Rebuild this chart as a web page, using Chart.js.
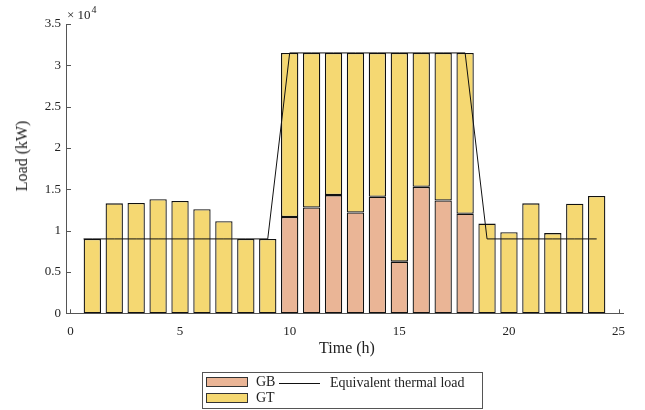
<!DOCTYPE html>
<html>
<head>
<meta charset="utf-8">
<script src="https://cdn.jsdelivr.net/npm/chart.js@4.4.1/dist/chart.umd.min.js"></script>
<style>
  html, body { margin: 0; padding: 0; background: #fff; }
  #wrap { position: relative; width: 645px; height: 410px; font-family: "Liberation Serif", serif; color: #222; }
  #wrap canvas { position: absolute; left: 0; top: 0; }
  .lbl { position: absolute; white-space: nowrap; line-height: 1; }
  #exp { left: 67px; top: 8px; font-size: 13px; }
  #exp .pow { font-size: 10px; position: relative; top: -6px; margin-left: 1px; }
  #ytitle { left: 22px; top: 156px; font-size: 16px; transform: translate(-50%, -50%) rotate(-90deg); }
  #xtitle { left: 347px; top: 348px; font-size: 16px; transform: translate(-50%, -50%); }
  #legend { position: absolute; left: 202px; top: 372px; width: 281px; height: 37px; box-sizing: border-box;
            border: 1px solid #555; font-size: 14px; }
  .item { position: absolute; display: flex; align-items: center; height: 16px; }
  .swatch { width: 42px; height: 10px; box-sizing: border-box; border: 1px solid #333; margin-right: 8px; }
  .stroke { width: 41px; height: 0; border-top: 1px solid #111; margin-right: 10px; }
</style>
</head>
<body>
<div id="wrap">
  <canvas id="chart" width="645" height="410"></canvas>
  <div class="lbl" id="exp">× 10<span class="pow">4</span></div>
  <div class="lbl" id="ytitle">Load (kW)</div>
  <div class="lbl" id="xtitle">Time (h)</div>
  <div id="legend"></div>
</div>
<script>
// hourly heat supply (kW)
const HOURS = [1, 2, 3, 4, 5, 6, 7, 8, 9, 10, 11, 12, 13, 14, 15, 16, 17, 18, 19, 20, 21, 22, 23, 24];
const GB = [0, 0, 0, 0, 0, 0, 0, 0, 0,
            11650, 12800, 14300, 12200, 14100, 6250, 15300, 13650, 12050,
            0, 0, 0, 0, 0, 0];
const GT = [9000, 13300, 13350, 13800, 13600, 12600, 11150, 9000, 9000,
            19850, 18700, 17200, 19300, 17400, 25250, 16200, 17850, 19450,
            10850, 9800, 13300, 9700, 13250, 14200];

// equivalent thermal load curve
const LOAD_HOURS = [0.6, 1, 2, 3, 4, 5, 6, 7, 8, 9, 10, 11, 12, 13, 14, 15, 16, 17, 18, 19, 20, 21, 22, 23, 24];
const LOAD = [9000, 9000, 9000, 9000, 9000, 9000, 9000, 9000, 9000, 9000,
              31500, 31500, 31500, 31500, 31500, 31500, 31500, 31500, 31500,
              9000, 9000, 9000, 9000, 9000, 9000];

const X_TICKS = [0, 5, 10, 15, 20, 25];
const Y_TICKS = [0, 5000, 10000, 15000, 20000, 25000, 30000, 35000];

const GB_COLOR = '#eab596';
const GT_COLOR = '#f5d872';
const FONT = 'Liberation Serif';

const pts = (xs, ys) => xs.map((x, i) => ({ x, y: ys[i] }));

// small inward tick marks on both axes, drawn under the bars
const innerTicks = {
  id: 'innerTicks',
  beforeDatasetsDraw(chart) {
    const { ctx, chartArea, scales: { x, y } } = chart;
    ctx.save();
    ctx.strokeStyle = '#555';
    ctx.lineWidth = 1;
    ctx.beginPath();
    y.ticks.forEach(t => {
      const py = Math.round(y.getPixelForValue(t.value)) + 0.5;
      ctx.moveTo(chartArea.left, py);
      ctx.lineTo(chartArea.left + 5, py);
    });
    x.ticks.forEach(t => {
      const px = Math.round(x.getPixelForValue(t.value)) + 0.5;
      ctx.moveTo(px, chartArea.bottom);
      ctx.lineTo(px, chartArea.bottom - 4);
    });
    ctx.stroke();
    ctx.restore();
  }
};

const barStyle = {
  type: 'bar',
  stack: 'supply',
  order: 1,
  borderColor: '#111',
  borderWidth: 1.3,
  borderSkipped: false,
  barPercentage: 0.79,
  categoryPercentage: 1
};

const chart = new Chart(document.getElementById('chart'), {
  data: {
    datasets: [
      { ...barStyle, label: 'GB', data: pts(HOURS, GB), backgroundColor: GB_COLOR },
      { ...barStyle, label: 'GT', data: pts(HOURS, GT), backgroundColor: GT_COLOR },
      {
        type: 'line', label: 'Equivalent thermal load', stack: 'load', order: 0,
        data: pts(LOAD_HOURS, LOAD),
        borderColor: '#111', borderWidth: 1, pointRadius: 0, tension: 0, fill: false
      }
    ]
  },
  options: {
    responsive: false,
    animation: false,
    devicePixelRatio: 1,
    layout: { padding: { top: 24, right: 22, left: 0, bottom: 0 } },
    plugins: { legend: { display: false }, tooltip: { enabled: false } },
    scales: {
      x: {
        type: 'linear',
        offset: false,
        min: -0.2, max: 25.2,
        grid: { display: false, drawTicks: false },
        border: { display: true, color: '#555', width: 1 },
        ticks: { font: { family: FONT, size: 13 }, color: '#222', padding: 10 },
        afterBuildTicks: s => { s.ticks = X_TICKS.map(v => ({ value: v })); },
        afterFit: s => { s.height = 96.7; }
      },
      y: {
        stacked: true,
        min: 0, max: 35000,
        grid: { display: false, drawTicks: false },
        border: { display: true, color: '#555', width: 1 },
        ticks: {
          font: { family: FONT, size: 13 }, color: '#222', padding: 5,
          callback: v => v / 10000
        },
        afterBuildTicks: s => { s.ticks = Y_TICKS.map(v => ({ value: v })); },
        afterFit: s => { s.width = 66; }
      }
    }
  },
  plugins: [innerTicks]
});

// legend: bars in the first column, the load line in the second
const legend = document.getElementById('legend');
const slots = [
  { left: 3, top: 1 },
  { left: 3, top: 17 },
  { left: 76, top: 2 }
];
chart.data.datasets.forEach((ds, i) => {
  const item = document.createElement('div');
  item.className = 'item';
  item.style.left = slots[i].left + 'px';
  item.style.top = slots[i].top + 'px';
  const mark = document.createElement('span');
  if (ds.type === 'line') {
    mark.className = 'stroke';
  } else {
    mark.className = 'swatch';
    mark.style.background = ds.backgroundColor;
  }
  const text = document.createElement('span');
  text.textContent = ds.label;
  item.append(mark, text);
  legend.appendChild(item);
});
</script>
</body>
</html>
